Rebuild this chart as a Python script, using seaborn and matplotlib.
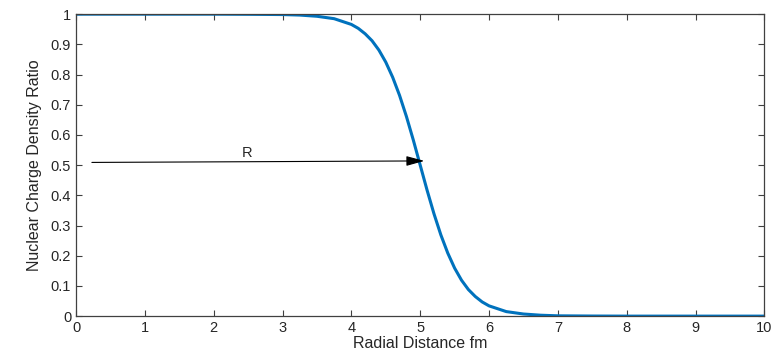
import numpy as np
import pandas as pd
import seaborn as sns
import matplotlib.pyplot as plt

# values
radius = [0, 0.5, 1, 1.5, 2, 2.5, 3, 3.25, 3.5, 3.75, 4, 4.1, 4.2, 4.3, 4.4, 4.5,
          4.6, 4.7, 4.8, 4.9, 5, 5.1, 5.2, 5.3, 5.4, 5.5, 5.6, 5.7, 5.8, 5.9, 6,
          6.25, 6.5, 6.75, 7, 7.5, 8, 9, 10]
density = [1.0, 1.0, 1.0, 1.0, 1.0, 0.9995, 0.9987, 0.997, 0.993, 0.985, 0.966,
           0.953, 0.935, 0.912, 0.881, 0.841, 0.791, 0.731, 0.661, 0.583, 0.5,
           0.417, 0.339, 0.269, 0.209, 0.159, 0.119, 0.088, 0.065, 0.047, 0.034,
           0.015, 0.007, 0.003, 0.001, 0.0003, 0.0, 0.0, 0.0]
xticks = [0, 1, 2, 3, 4, 5, 6, 7, 8, 9, 10]
yticks = [0, 0.1, 0.2, 0.3, 0.4, 0.5, 0.6, 0.7, 0.8, 0.9, 1]

df = pd.DataFrame({"r": radius, "rho": density})

sns.set_style("ticks")
plt.rcParams['font.family'] = ['Liberation Sans', 'DejaVu Sans']
plt.rcParams['xtick.direction'] = 'in'
plt.rcParams['ytick.direction'] = 'in'

fig = plt.figure(figsize=(7.76, 3.54), dpi=100)
ax = fig.add_axes([0.098, 0.107, 0.887, 0.853])
sns.lineplot(data=df, x="r", y="rho", color="#0072BD", linewidth=2.2, ax=ax)

ax.set_xlim(0, 10)
ax.set_ylim(0, 1)
ax.set_xticks(xticks)
ax.set_yticks(yticks)
ax.set_xticklabels([str(t) for t in xticks])
ax.set_yticklabels(["0" if t == 0 else ("1" if t == 1 else str(t)) for t in yticks])
ax.tick_params(axis='both', which='both', top=True, right=True, length=4,
               width=0.8, colors='#404040', labelsize=10.5, labelcolor='#262626')
for s in ax.spines.values():
    s.set_visible(True)
    s.set_color('#404040')
    s.set_linewidth(0.9)

ax.set_xlabel("Radial Distance fm", fontsize=11.5, color='#262626', labelpad=1)
ax.set_ylabel("Nuclear Charge Density Ratio", fontsize=11.5, color='#262626',
              family=['Liberation Sans Narrow', 'Liberation Sans'], labelpad=6)

ax.annotate("", xy=(5.06, 0.514), xytext=(0.23, 0.509),
            arrowprops=dict(arrowstyle="-|>,head_length=1.1,head_width=0.3",
                            color='black', lw=0.8, shrinkA=0, shrinkB=0))
ax.text(2.48, 0.54, "R", fontsize=10.5, ha='center', va='center', color='#262626')

fig.savefig("out.png", dpi=100)
